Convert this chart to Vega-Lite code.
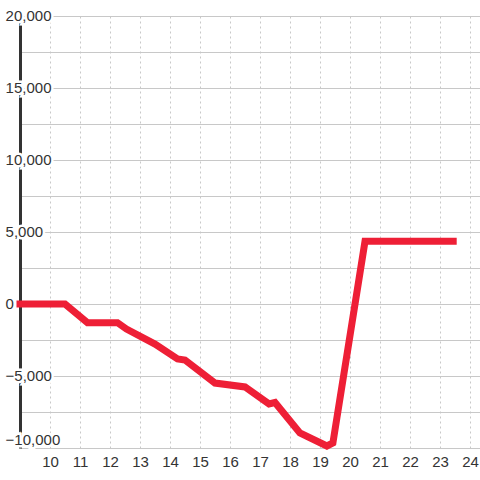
{
  "$schema": "https://vega.github.io/schema/vega-lite/v6.json",
  "autosize": "none",
  "width": 460,
  "height": 432,
  "padding": {"left": 20, "top": 16, "right": 0, "bottom": 32},
  "background": "#ffffff",
  "config": {
    "view": {"stroke": null},
    "font": "Liberation Sans",
    "axisX": {
      "title": null, "domain": false, "ticks": false,
      "labelFontSize": 15, "labelColor": "#333333", "labelPadding": 6,
      "labelFlush": false, "labelOverlap": false, "labelBound": false, "labelSeparation": 0,
      "labelFont": "Liberation Sans",
      "grid": true, "gridColor": "#c8c8c8", "gridDash": [2, 3], "gridWidth": 1
    },
    "axisY": {
      "title": null, "labels": false, "ticks": false,
      "domain": true, "domainColor": "#333333", "domainWidth": 3,
      "grid": true, "gridColor": "#c8c8c8", "gridWidth": 1
    }
  },
  "datasets": {
    "series": [
      {"x": 9, "y": 0},
      {"x": 10.5, "y": 0},
      {"x": 11.25, "y": -1300},
      {"x": 12.25, "y": -1300},
      {"x": 12.55, "y": -1740},
      {"x": 13.5, "y": -2780},
      {"x": 14.25, "y": -3820},
      {"x": 14.5, "y": -3890},
      {"x": 15.5, "y": -5490},
      {"x": 16.5, "y": -5760},
      {"x": 17.3, "y": -6940},
      {"x": 17.5, "y": -6840},
      {"x": 18.33, "y": -8960},
      {"x": 19.23, "y": -9860},
      {"x": 19.43, "y": -9650},
      {"x": 20.5, "y": 4350},
      {"x": 23.44, "y": 4350}
    ],
    "ticks": [
      {"v": 20000}, {"v": 15000}, {"v": 10000}, {"v": 5000},
      {"v": 0}, {"v": -5000}, {"v": -10000}
    ]
  },
  "encoding": {
    "x": {
      "type": "quantitative",
      "scale": {"domain": [9, 24.3333], "nice": false, "zero": false},
      "axis": {"values": [10, 11, 12, 13, 14, 15, 16, 17, 18, 19, 20, 21, 22, 23, 24], "labelOverlap": false, "labelFontSize": 15, "format": "d"}
    },
    "y": {
      "type": "quantitative",
      "scale": {"domain": [-10000, 20000], "nice": false, "zero": false},
      "axis": {"values": [-10000, -7500, -5000, -2500, 0, 2500, 5000, 7500, 10000, 12500, 15000, 17500, 20000]}
    }
  },
  "layer": [
    {
      "mark": {"type": "rule", "color": "#333333", "strokeWidth": 3},
      "encoding": {"y": {"datum": 0, "type": "quantitative"}}
    },
    {
      "data": {"name": "ticks"},
      "mark": {
        "type": "text", "align": "left", "fontSize": 15, "font": "Liberation Sans",
        "fill": "#ffffff", "stroke": "#ffffff", "strokeWidth": 5, "strokeJoin": "miter",
        "baseline": {"expr": "datum.v == -10000 ? 'bottom' : 'middle'"}
      },
      "encoding": {
        "x": {"datum": 8.52},
        "y": {"field": "v"},
        "text": {"field": "v", "type": "quantitative", "format": ","}
      }
    },
    {
      "data": {"name": "ticks"},
      "mark": {
        "type": "text", "align": "left", "fontSize": 15, "font": "Liberation Sans",
        "color": "#333333",
        "baseline": {"expr": "datum.v == -10000 ? 'bottom' : 'middle'"}
      },
      "encoding": {
        "x": {"datum": 8.52},
        "y": {"field": "v"},
        "text": {"field": "v", "type": "quantitative", "format": ","}
      }
    },
    {
      "data": {"name": "series"},
      "mark": {"type": "line", "color": "#ee1f36", "strokeWidth": 7, "strokeCap": "square", "strokeJoin": "miter"},
      "encoding": {
        "x": {"field": "x"},
        "y": {"field": "y"}
      }
    }
  ]
}
